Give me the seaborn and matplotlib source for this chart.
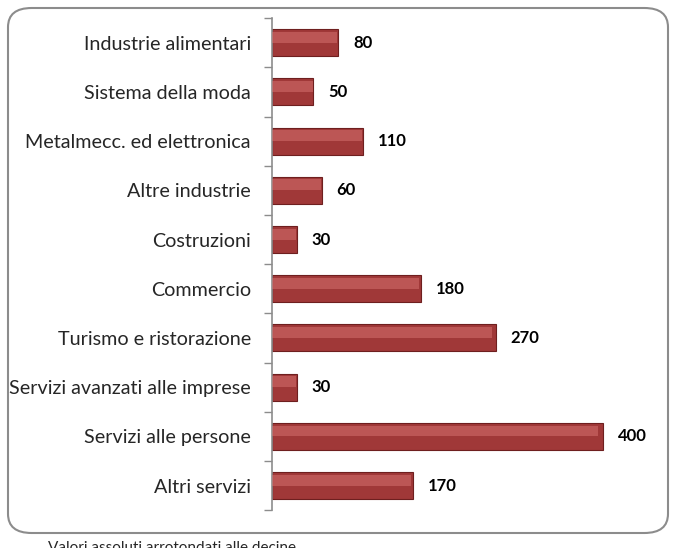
import matplotlib
matplotlib.use("Agg")
import matplotlib.pyplot as plt
from matplotlib.patches import FancyBboxPatch
import pandas as pd
import seaborn as sns

categories = ["Industrie alimentari", "Sistema della moda", "Metalmecc. ed elettronica",
              "Altre industrie", "Costruzioni", "Commercio", "Turismo e ristorazione",
              "Servizi avanzati alle imprese", "Servizi alle persone", "Altri servizi"]
values = [80, 50, 110, 60, 30, 180, 270, 30, 400, 170]

df = pd.DataFrame({"settore": categories, "valore": values})

sns.set_style("white")
plt.rcParams["font.family"] = ["Lato", "DejaVu Sans"]

fig = plt.figure(figsize=(6.76, 5.48), dpi=100)
ax = fig.add_axes([0.402, 0.069, 0.552, 0.898])

# rounded frame around the chart
frame = FancyBboxPatch((8 / 676, 15 / 548), 660 / 676, 525 / 548,
                       boxstyle="round,pad=0,rounding_size=0.035",
                       transform=fig.transFigure, facecolor="white",
                       edgecolor="#8c8c8c", linewidth=1.5, zorder=-10)
fig.patches.append(frame)

sns.barplot(data=df, x="valore", y="settore", orient="h", color="#a03838",
            edgecolor="#6e1f1f", linewidth=0.8, width=0.55, saturation=1, ax=ax)

# lighter upper band on each bar for the bevel look
for p in list(ax.patches):
    x, y = p.get_x(), p.get_y()
    w, h = p.get_width(), p.get_height()
    ax.barh(y + h * 0.3, w * 0.985, height=h * 0.4, left=x, color="#e07c7a",
            alpha=0.45, linewidth=0, zorder=3)

for i, v in enumerate(values):
    ax.text(v + 18, i, str(v), va="center", ha="left", fontsize=12,
            fontweight="bold", color="black")

ax.set_xlim(0, 450)
ax.set_ylim(len(categories) - 0.5, -0.5)
ax.set_xlabel("")
ax.set_ylabel("")
ax.set_xticks([])
ax.set_yticks(range(len(categories)))
ax.set_yticklabels(categories, fontsize=14.2)
ax.tick_params(axis="y", length=0, pad=15)
ax.set_yticks([i + 0.5 for i in range(-1, len(categories))], minor=True)
ax.tick_params(axis="y", which="minor", length=6, width=1, color="#8c8c8c", left=True)
for s in ["top", "right", "bottom"]:
    ax.spines[s].set_visible(False)
ax.spines["left"].set_color("#8c8c8c")
ax.spines["left"].set_linewidth(1.2)
ax.patch.set_alpha(0)

fig.text(48 / 676, 1 - 541 / 548, "Valori assoluti arrotondati alle decine",
         fontsize=11, va="top", ha="left")

fig.savefig("out.png", dpi=100)
